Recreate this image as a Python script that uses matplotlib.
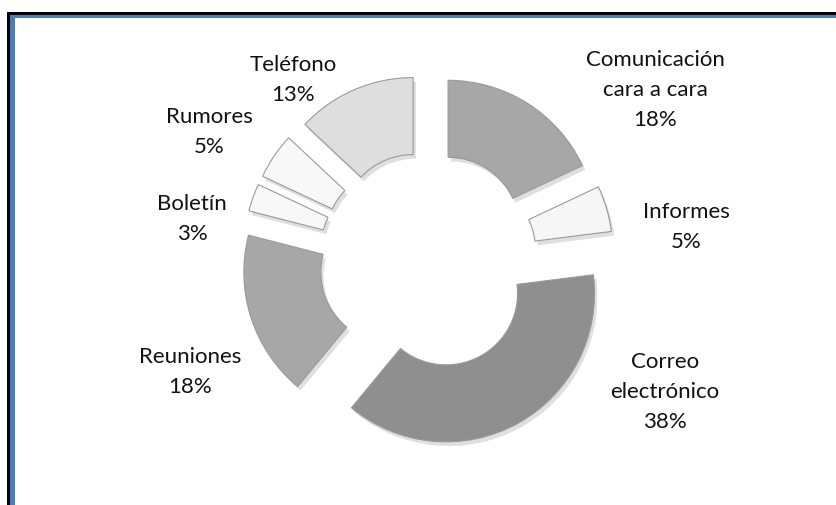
import matplotlib.pyplot as plt
import matplotlib.patheffects as pe
from matplotlib.patches import Rectangle

# canales de comunicación, en sentido horario desde arriba
canales = ['Comunicación\ncara a cara', 'Informes', 'Correo\nelectrónico',
           'Reuniones', 'Boletín', 'Rumores', 'Teléfono']
porcentajes = [18, 5, 38, 18, 3, 5, 13]
colores = ['#a7a7a7', '#f6f6f6', '#8f8f8f', '#a7a7a7', '#f8f8f8', '#f8f8f8', '#dedede']

# posición de cada etiqueta (px, desde arriba)
pos_etiquetas = [(655, 90), (686, 227), (665, 392), (190, 372),
                 (192, 219), (209, 132), (293, 80)]

W, H = 837, 506
fig = plt.figure(figsize=(W / 100, H / 100), dpi=100)
ax = fig.add_axes([0, 0, 1, 1])

wedges, _ = ax.pie(
    porcentajes,
    colors=colores,
    startangle=90,
    counterclock=False,
    radius=148.5,
    center=(428, H - 261.5),
    explode=[37.5] * len(porcentajes),
    wedgeprops=dict(width=77, edgecolor='#9a9a9a', linewidth=0.8),
)
for w in wedges:
    w.set_path_effects([
        pe.SimplePatchShadow(offset=(2, -3), shadow_rgbFace='#808080', alpha=0.25),
        pe.Normal(),
    ])

for nombre, pct, (x, y) in zip(canales, porcentajes, pos_etiquetas):
    ax.text(x, H - y, f'{nombre}\n{pct}%', ha='center', va='center',
            fontsize=16, family='Lato', linespacing=1.6, color='#111111')

# marco
ax.add_patch(Rectangle((7, 0), 3, H - 13, color='black', lw=0))
ax.add_patch(Rectangle((7, H - 16), W, 3, color='black', lw=0))
ax.add_patch(Rectangle((10, 0), 5, H - 16, color='#4a7ebb', lw=0))
ax.add_patch(Rectangle((10, H - 19), W, 3, color='#4a7ebb', lw=0))

ax.set_xlim(0, W)
ax.set_ylim(0, H)
ax.set_aspect('auto')
ax.axis('off')

fig.savefig('out.png', dpi=100)
